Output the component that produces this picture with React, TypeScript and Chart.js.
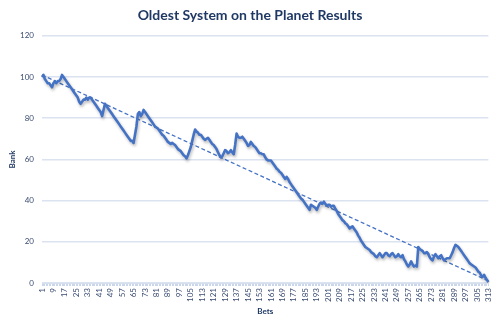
import React, { useEffect, useRef } from "react";
import { Chart, registerables } from "chart.js";

Chart.register(...registerables);

const TITLE = "Oldest System on the Planet Results";
const Y_TITLE = "Bank";
const X_TITLE = "Bets";

// Bank value after each bet (bets 1..313)
const bank: number[] = [
  // 1-15
  100, 101, 99, 98, 97, 97, 96, 95, 97, 98, 97, 98, 98, 99, 101,
  // 16-28
  100, 99, 98, 97, 96, 95, 94, 93, 92, 91, 90, 88, 87,
  // 29-45
  88, 89, 89, 90, 89, 90, 90, 89, 88, 87, 86, 85, 84, 83, 81, 84, 87,
  // 46-65
  86, 85, 84, 83, 82, 81, 80, 79, 78, 77, 76, 75, 74, 73, 72, 71, 70, 69, 69, 68,
  // 66-72
  72, 76, 82, 83, 81, 82, 84,
  // 73-102
  83, 82, 81, 80, 79, 78, 77, 76, 75.5, 75, 74, 73, 72, 71.5, 70.5, 69.5, 68.5, 68, 67.5, 68,
  67.5, 67, 66, 65, 64.5, 64, 63, 62, 61.5, 60.5,
  // 103-135
  62, 64, 66, 69, 72, 74.5, 73.5, 73, 72, 72, 71, 70, 69.5, 70, 70.5, 69.5, 68.5, 67.5, 67, 66,
  65, 63.5, 62, 61, 61.5, 63, 64.5, 64, 63, 63.5, 64.5, 63.5, 62.5,
  // 136-171
  67, 72.5, 71, 70.5, 70.5, 71, 70, 69, 68, 66.5, 67, 68.5, 67.5, 66.5, 66, 65, 64, 63, 63, 62.5,
  62.5, 61, 60, 59.5, 59.5, 59.5, 58.5, 57.5, 56.5, 55.5, 55, 54, 53.5, 52.5, 51.5, 50.5,
  // 172-205
  51.5, 50.5, 49, 48, 47, 46, 45, 44, 43, 42, 41, 40.5, 39.5, 38.5, 37.5, 36.5, 35.5, 38, 37.5, 37,
  36.5, 35.5, 37, 38.5, 39, 38.5, 39.5, 38.5, 37.5, 38, 38, 37, 37.5, 37.5,
  // 206-235
  36, 35, 33.5, 32.5, 31.5, 30.5, 30, 29, 28.5, 27.5, 26.5, 27, 27.5, 26.5, 25.5, 24.5, 23, 22, 20.5, 19.5,
  18.5, 17.5, 17, 16.5, 16, 15, 14.5, 14, 13, 12.5,
  // 236-263
  13.5, 14.5, 13.5, 12.5, 13.5, 14.5, 14.5, 13.5, 13, 14, 14.5, 13.5, 12.5, 13, 14, 13, 12.5, 13.5, 11.5, 10.5,
  9, 8, 9, 10.5, 9, 8, 8.5, 8,
  // 264-290
  17.5, 16.5, 16, 15.5, 14.5, 14.5, 15, 14, 12.5, 11.5, 11, 13, 14, 13, 12, 13, 13.5, 12, 11, 11.5,
  12, 12, 12, 13.5, 15, 17, 18.5,
  // 291-313
  18, 17.5, 16.5, 15.5, 14.5, 13.5, 12.5, 11.5, 10.5, 9.5, 9, 8.5, 8, 7.5, 6.5, 5.5, 5, 3.5, 3, 4,
  2.5, 1.5, 0.5,
];

const bets: string[] = bank.map((_, i) => String(i + 1));

// Linear trendline end points (first and last bet)
const trendStart = 101;
const trendEnd = 1;

const yTicks = { min: 0, max: 120, step: 20 };
const labelEvery = 8;

export default function App() {
  const ref = useRef<HTMLCanvasElement | null>(null);

  useEffect(() => {
    if (!ref.current) return;
    const trend: (number | null)[] = bank.map(() => null);
    trend[0] = trendStart;
    trend[trend.length - 1] = trendEnd;

    const shadow = {
      id: "lineShadow",
      beforeDatasetDraw(chart: any, args: any) {
        if (args.index !== 0) return;
        const c = chart.ctx;
        c.save();
        c.shadowColor = "rgba(0,0,0,0.28)";
        c.shadowBlur = 3;
        c.shadowOffsetX = 1;
        c.shadowOffsetY = 2;
      },
      afterDatasetDraw(chart: any, args: any) {
        if (args.index !== 0) return;
        chart.ctx.restore();
      },
    };

    const tickColor = "#3A4C72";
    const navy = "#1F3864";

    const chart = new Chart(ref.current, {
      type: "line",
      data: {
        labels: bets,
        datasets: [
          {
            label: "Bank",
            data: bank,
            borderColor: "#4472C4",
            borderWidth: 2.6,
            pointRadius: 0,
            tension: 0,
            fill: false,
            borderJoinStyle: "round",
          },
          {
            label: "Trend",
            data: trend,
            spanGaps: true,
            borderColor: "#4472C4",
            borderWidth: 1.3,
            borderDash: [4, 2.5],
            pointRadius: 0,
            fill: false,
          },
        ],
      },
      options: {
        animation: false,
        responsive: false,
        maintainAspectRatio: false,
        layout: { padding: { left: 8, right: 8, top: 0, bottom: 6 } },
        plugins: {
          legend: { display: false },
          tooltip: { enabled: false },
          title: {
            display: true,
            text: TITLE,
            color: navy,
            font: { family: "Lato", size: 14, weight: "bold" },
            padding: { top: 7, bottom: 12 },
          },
        },
        scales: {
          x: {
            type: "category",
            offset: false,
            grid: {
              drawOnChartArea: false,
              drawTicks: true,
              tickLength: 3,
              color: "#C9D6EC",
              lineWidth: 1,
            },
            border: { display: true, color: "#D6DFEE", width: 1 },
            ticks: {
              autoSkip: false,
              maxRotation: 90,
              minRotation: 90,
              padding: 2,
              color: tickColor,
              font: { family: "Lato", size: 8 },
              callback: (_v: any, i: number) => (i % labelEvery === 0 ? bets[i] : ""),
            },
            title: {
              display: true,
              text: X_TITLE,
              color: navy,
              font: { family: "Lato", size: 8, weight: "bold" },
              padding: { top: 2, bottom: 0 },
            },
            afterFit: (s: any) => {
              s.height = 33;
            },
          },
          y: {
            min: yTicks.min,
            max: yTicks.max,
            grid: { color: "#DCE3F0", lineWidth: 1.5, drawTicks: false },
            border: { display: false },
            ticks: {
              stepSize: yTicks.step,
              padding: 8,
              color: tickColor,
              font: { family: "Lato", size: 8 },
            },
            title: {
              display: true,
              text: Y_TITLE,
              color: navy,
              font: { family: "Lato", size: 8, weight: "bold" },
              padding: { top: 0, bottom: 2 },
            },
            afterFit: (s: any) => {
              s.width = 34;
            },
          },
        },
      },
      plugins: [shadow],
    });
    return () => chart.destroy();
  }, []);

  return (
    <div style={{ position: "fixed", left: 0, top: 0, width: 500, height: 322, background: "#fff" }}>
      <canvas ref={ref} width={500} height={322} style={{ width: 500, height: 322 }} />
    </div>
  );
}
